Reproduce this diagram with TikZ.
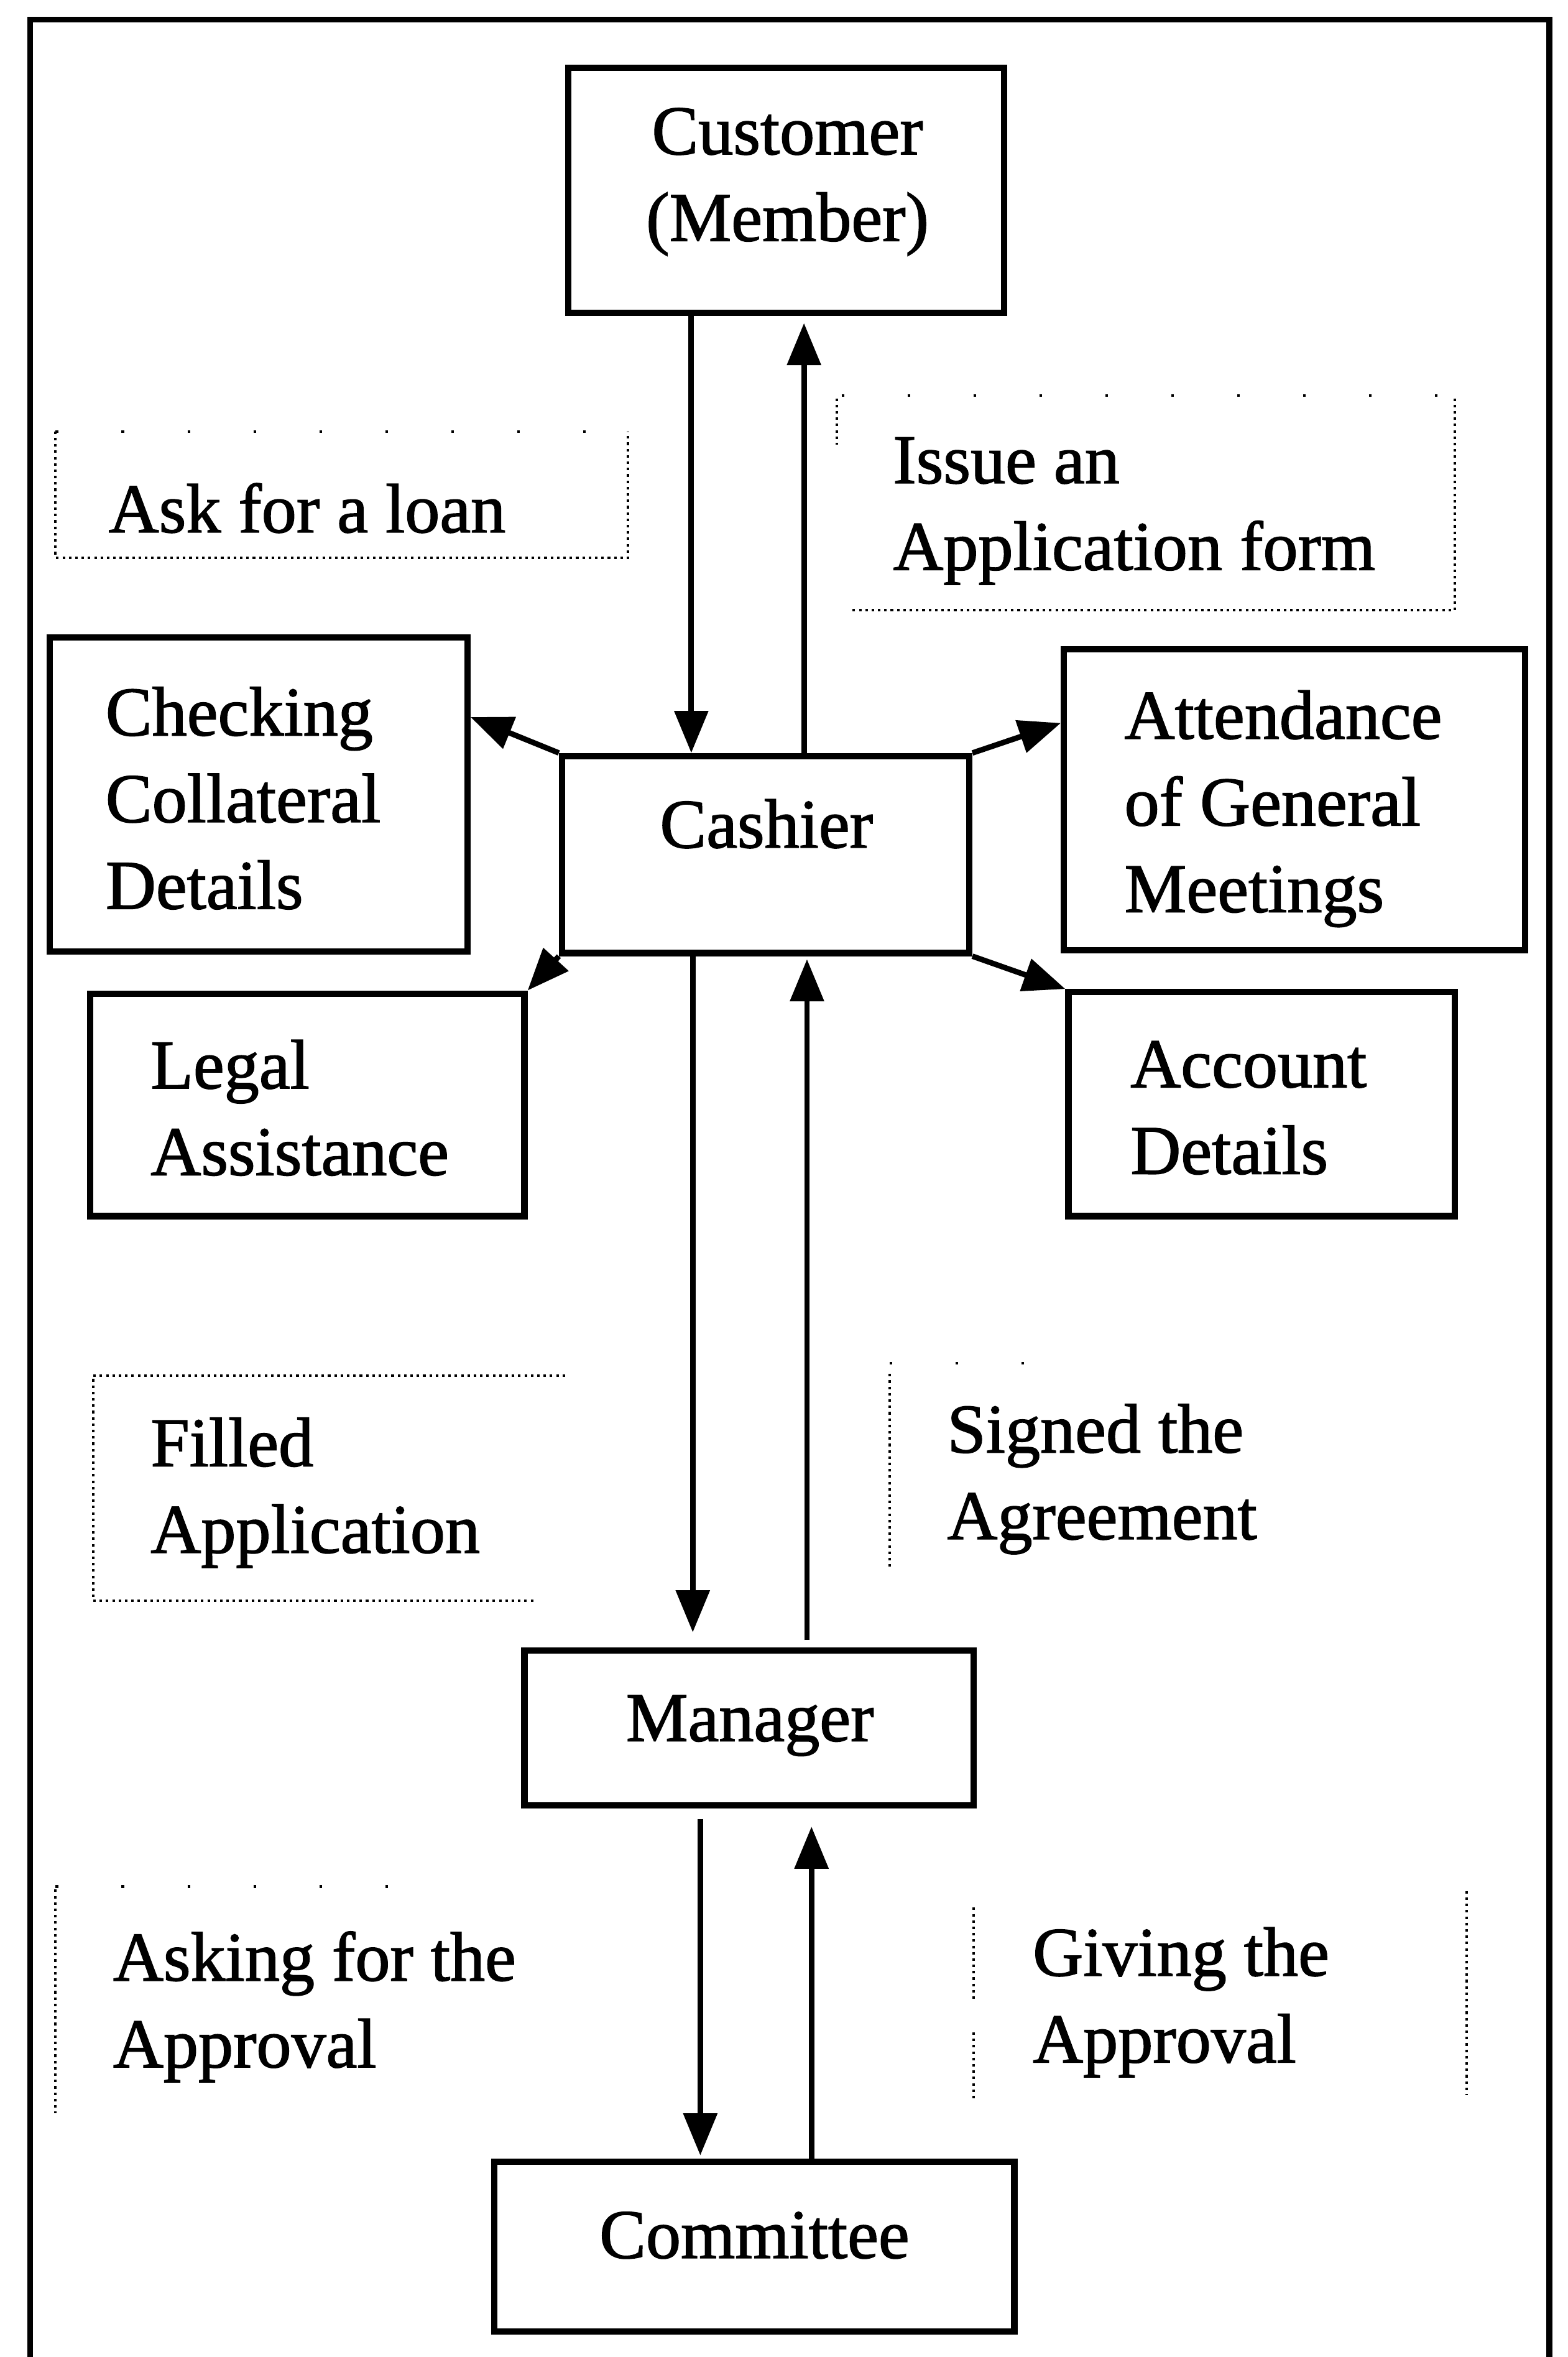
\documentclass[tikz,border=0pt]{standalone}
\usepackage{fontspec}
\setmainfont{Liberation Serif}[FakeBold=1.4]
\usetikzlibrary{arrows.meta,fit}
\begin{document}
\begin{tikzpicture}[x=0.025cm,y=-0.025cm,
  box/.style={draw,line width=3pt,inner sep=0pt},
  txt/.style={font=\fontsize{33}{41}\selectfont,align=left,inner sep=0pt},
  arr/.style={line width=2.6pt,-{Triangle[length=0.7cm,width=0.55cm]}},
  dotline/.style={line width=1.2pt,dash pattern=on 1.2pt off 1.8pt},
  sparse/.style={line width=1.2pt,dash pattern=on 1.2pt off 30pt},
  frame/.style={line width=2.8pt}]
\useasboundingbox (0,0) rectangle (1043,1568);

% outer frame (open at the foot of the page)
\draw[frame] (20,1568) -- (20,13) -- (1031,13) -- (1031,1568);

% boxes
\node[box,fit={(378,45) (668,208)}]   (cust) {};
\node[box,fit={(374,503) (645,634)}]  (cash) {};
\node[box,fit={(33,424) (311,633)}]   (chk)  {};
\node[box,fit={(708,432) (1015,632)}] (att)  {};
\node[box,fit={(60,661) (349,809)}]   (leg)  {};
\node[box,fit={(711,660) (968,809)}]  (acc)  {};
\node[box,fit={(349,1098) (648,1201)}] (mgr) {};
\node[box,fit={(329,1438) (675,1551)}] (com) {};

% box texts
\node[txt,align=center] (cust-t) at (524,121) {Customer\\(Member)};
\node[txt] (cash-t) at (510,548) {Cashier};
\node[txt,anchor=west] (chk-t) at (70,531) {Checking\\Collateral\\Details};
\node[txt,anchor=west] (att-t) at (748,538) {Attendance\\of General\\Meetings};
\node[txt,anchor=west] (leg-t) at (100,737) {Legal\\Assistance};
\node[txt,anchor=west] (acc-t) at (752,737) {Account\\Details};
\node[txt] (mgr-t) at (499,1148) {Manager};
\node[txt] (com-t) at (502,1487) {Committee};

% flow labels
\node[txt,anchor=west] (loan-t)  at (72,338)   {Ask for a loan};
\node[txt,anchor=west] (issue-t) at (594,340)  {Issue an\\Application form};
\node[txt,anchor=west] (fill-t)  at (100,993)  {Filled\\Application};
\node[txt,anchor=west] (sign-t)  at (630,984)  {Signed the\\Agreement};
\node[txt,anchor=west] (askap-t) at (75,1335)  {Asking for the\\Approval};
\node[txt,anchor=west] (give-t)  at (687,1332) {Giving the\\Approval};

% dotted frames round the flow labels
\draw[dotline] (37,287) -- (37,371) -- (418,371) -- (418,287);
\draw[sparse]  (37,287) -- (418,287);
\draw[dotline] (557,265) -- (557,296);
\draw[dotline] (968,265) -- (968,406) -- (565,406);
\draw[sparse]  (560,263) -- (968,263);
\draw[dotline] (376,915) -- (62,915) -- (62,1065) -- (356,1065);
\draw[dotline] (592,914) -- (592,1044);
\draw[sparse]  (592,907) -- (700,907);
\draw[dotline] (37,1257) -- (37,1406);
\draw[sparse]  (37,1255) -- (300,1255);
\draw[dotline] (648,1269) -- (648,1330);
\draw[dotline] (648,1352) -- (648,1397);
\draw[dotline] (976,1258) -- (976,1394);

% customer <-> cashier
\draw[arr] (cust.south -| 460,0) -- (cash.north -| 460,0);
\draw[arr,shorten >=0.12cm] (cash.north -| 535,0) -- (cust.south -| 535,0);

% cashier -> side duties
\draw[arr] (cash.north west) -- (chk.east |- 0,477);
\draw[arr] (cash.north east) -- (att.west |- 0,481);
\draw[arr] (cash.south west) -- (leg.north east);
\draw[arr] (cash.south east) -- (acc.north west);

% cashier <-> manager
\draw[arr,shorten >=0.25cm] (cash.south -| 461,0) -- (mgr.north -| 461,0);
\draw[arr,shorten <=0.12cm,shorten >=0.05cm] (mgr.north -| 537,0) -- (cash.south -| 537,0);

% manager <-> committee
\draw[arr,shorten <=0.17cm,shorten >=0.05cm] (mgr.south -| 466,0) -- (com.north -| 466,0);
\draw[arr,shorten >=0.3cm] (com.north -| 540,0) -- (mgr.south -| 540,0);
\end{tikzpicture}
\end{document}
